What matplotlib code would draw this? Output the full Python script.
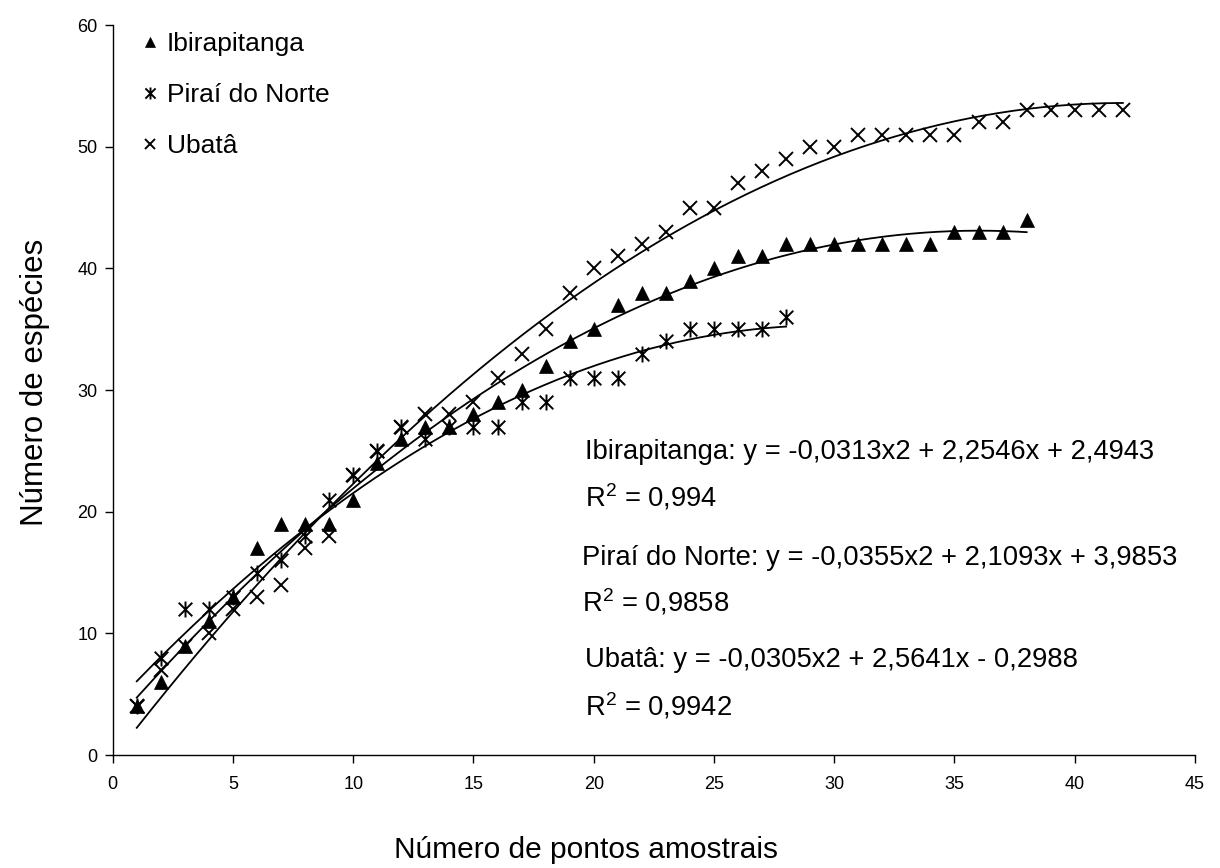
import numpy as np
import matplotlib.pyplot as plt
from matplotlib.path import Path
from matplotlib.lines import Line2D

plt.rcParams['font.family'] = ['Liberation Sans', 'DejaVu Sans']
plt.rcParams['mathtext.fontset'] = 'custom'
plt.rcParams['mathtext.rm'] = 'Liberation Sans'

# species counts per number of sampling points
ibirapitanga = [4, 6, 9, 11, 13, 17, 19, 19, 19, 21, 24, 26, 27, 27, 28, 29, 30, 32, 34, 35,
                37, 38, 38, 39, 40, 41, 41, 42, 42, 42, 42, 42, 42, 42, 43, 43, 43, 44]
pirai = [4, 8, 12, 12, 13, 15, 16, 18, 21, 23, 25, 27, 26, 27, 27, 27, 29, 29, 31, 31,
         31, 33, 34, 35, 35, 35, 35, 36]
ubata = [4, 7, 9, 10, 12, 13, 14, 17, 18, 23, 25, 27, 28, 28, 29, 31, 33, 35, 38, 40,
         41, 42, 43, 45, 45, 47, 48, 49, 50, 50, 51, 51, 51, 51, 51, 52, 52, 53, 53, 53, 53, 53]

names = ["Ibirapitanga", "Piraí do Norte", "Ubatâ"]
# polynomial trendline coefficients (x2, x, const) as printed on the chart
coef_ibira = [-0.0313, 2.2546, 2.4943]
coef_pirai = [-0.0355, 2.1093, 3.9853]
coef_ubata = [-0.0305, 2.5641, -0.2988]
eq_text = ["Ibirapitanga: y = -0,0313x2 + 2,2546x + 2,4943",
           "Piraí do Norte: y = -0,0355x2 + 2,1093x + 3,9853",
           "Ubatâ: y = -0,0305x2 + 2,5641x - 0,2988"]
r2_text = ["R$^2$ = 0,994", "R$^2$ = 0,9858", "R$^2$ = 0,9942"]

# Excel-like asterisk: x plus a vertical bar
ast = Path([(0, -1), (0, 1), (-0.85, -0.85), (0.85, 0.85), (-0.85, 0.85), (0.85, -0.85)],
           [Path.MOVETO, Path.LINETO] * 3)

W, H = 1220, 868
fig = plt.figure(figsize=(W / 100, H / 100), dpi=100)
ax = fig.add_axes([112.7 / W, 1 - 755 / H, (1195 - 112.7) / W, (755 - 25) / H])

series = [(ibirapitanga, coef_ibira, dict(marker='^', ms=10, mfc='black', mec='black', mew=0.5)),
          (pirai, coef_pirai, dict(marker=ast, ms=11.5, mfc='none', mec='black', mew=1.4)),
          (ubata, coef_ubata, dict(marker='x', ms=10, mfc='none', mec='black', mew=1.4))]

handles = []
for vals, coef, mk in series:
    x = np.arange(1, len(vals) + 1)
    xs = np.linspace(1, len(vals), 200)
    ax.plot(xs, np.polyval(coef, xs), color='black', lw=1.3, zorder=2)
    ax.plot(x, vals, ls='none', zorder=3, **mk)
    handles.append(Line2D([], [], ls='none', **mk))

ax.set_xlim(0, 45)
ax.set_ylim(0, 60)
ax.set_xticks(np.arange(0, 46, 5))
ax.set_yticks(np.arange(0, 61, 10))
for s in ['top', 'right']:
    ax.spines[s].set_visible(False)
for s in ['left', 'bottom']:
    ax.spines[s].set_linewidth(1.0)
ax.tick_params(direction='out', length=6, width=1, labelsize=13)
ax.tick_params(axis='y', pad=5)
ax.tick_params(axis='x', pad=9)

# axis titles placed where the original puts them
fig.text(586 / W, 1 - 850 / H, "Número de pontos amostrais", fontsize=21.5,
         ha='center', va='center')
fig.text(35 / W, 1 - 382 / H, "Número de espécies", fontsize=22.5, rotation=90,
         ha='center', va='center')

leg = ax.legend(handles, names, loc='upper left', bbox_to_anchor=(142 / W, 1 - 32 / H),
                bbox_transform=fig.transFigure, frameon=False, fontsize=19,
                markerscale=0.75, handlelength=0.6, handletextpad=0.35,
                labelspacing=1.02, borderpad=0, borderaxespad=0)

# trendline equations
eq_pos = [(19.63, 24.9), (19.53, 16.2), (19.63, 7.8)]
r2_pos = [(19.63, 21.2), (19.53, 12.6), (19.63, 4.0)]
for (ex, ey), t in zip(eq_pos, eq_text):
    ax.text(ex, ey, t, fontsize=19.7, va='center', ha='left')
for (rx, ry), t in zip(r2_pos, r2_text):
    ax.text(rx, ry, t, fontsize=19.7, va='center', ha='left')

fig.savefig("out.png", dpi=100)
